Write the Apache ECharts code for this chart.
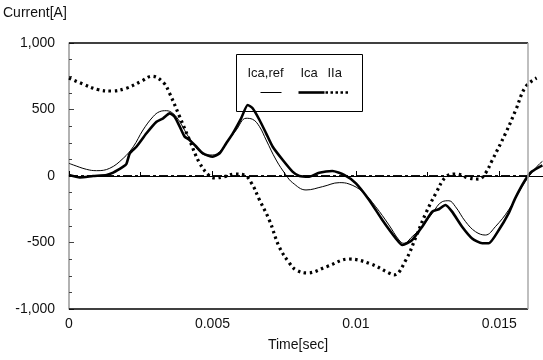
<!DOCTYPE html>
<html>
<head>
<meta charset="utf-8">
<title>Current</title>
<script src="https://cdn.jsdelivr.net/npm/echarts@6/dist/echarts.min.js"></script>
<style>
  html, body { margin: 0; padding: 0; background: #fff; }
  #chart { width: 543px; height: 360px; }
</style>
</head>
<body>
<div id="chart"></div>
<script>
// values
const refTime = [0, 0.00015, 0.00061, 0.00096, 0.00142, 0.00189, 0.00224, 0.00258, 0.00293, 0.00316, 0.00339, 0.00362, 0.00386,
  0.00409, 0.00432, 0.00455, 0.00478, 0.00501, 0.00525, 0.00548, 0.00583, 0.00617, 0.0064, 0.00664, 0.00687, 0.00722,
  0.00756, 0.00779, 0.00826, 0.00884, 0.00942, 0.00976, 0.01023, 0.01069, 0.01115, 0.0115, 0.01167, 0.01196, 0.01231,
  0.01266, 0.01301, 0.01324, 0.01347, 0.01382, 0.01417, 0.01451, 0.01486, 0.01532, 0.01579, 0.01602, 0.01636, 0.0165]
const refCurrent = [95, 83, 50, 40, 58, 133, 220, 346, 446, 484, 491, 471, 408,
  321, 246, 183, 158, 158, 183, 246, 346, 434, 426, 371, 271, 120,
  8, -50, -105, -80, -50, -60, -118, -231, -368, -481, -506, -456, -381,
  -281, -193, -186, -231, -343, -419, -444, -381, -256, -80, -5, 83, 110]

const icaTime = [0, 0.00038, 0.00084, 0.00131, 0.00154, 0.00189, 0.002, 0.00212, 0.00235, 0.0027, 0.00305, 0.00328, 0.00351,
  0.00368, 0.00386, 0.00403, 0.0042, 0.00444, 0.00467, 0.00501, 0.00525, 0.00548, 0.00571, 0.006, 0.00623, 0.0064,
  0.00664, 0.00687, 0.0071, 0.00745, 0.00779, 0.00803, 0.00837, 0.00872, 0.00918, 0.00959, 0.01, 0.01046, 0.01092,
  0.01139, 0.01162, 0.01196, 0.01231, 0.01266, 0.01289, 0.01312, 0.01335, 0.0137, 0.01405, 0.0144, 0.01463, 0.01498,
  0.01532, 0.01555, 0.0159, 0.01613, 0.0165]
const icaCurrent = [8, -10, 0, 8, 25, 70, 90, 170, 220, 321, 408, 434, 471,
  446, 371, 296, 271, 220, 170, 145, 170, 246, 321, 434, 534, 509,
  421, 321, 220, 120, 33, 0, -5, 25, 38, 8, -55, -180, -331,
  -469, -519, -481, -381, -268, -250, -218, -268, -381, -469, -506, -506, -406,
  -281, -168, -30, 33, 80]

const iiaTime = [0, 0.0005, 0.001, 0.0015, 0.002, 0.0025, 0.0029, 0.0033, 0.0035, 0.00386, 0.0042, 0.00455, 0.0049,
  0.0051, 0.0054, 0.0058, 0.0061, 0.00636, 0.00664, 0.00698, 0.00733, 0.00768, 0.00792, 0.0083, 0.009, 0.00976,
  0.0105, 0.01115, 0.01133, 0.01174, 0.01209, 0.01244, 0.01279, 0.01313, 0.01348, 0.01393, 0.01428, 0.01452, 0.01473,
  0.01522, 0.01557, 0.01591, 0.0163]
const iiaCurrent = [737, 690, 650, 639, 660, 710, 750, 700, 624, 444, 271, 98, 0,
  -15, -5, 15, 8, -53, -180, -331, -534, -654, -707, -729, -680, -624,
  -660, -729, -744, -632, -459, -278, -128, -8, 15, -15, -23, 23, 110,
  323, 496, 669, 737]

const baseTime = [0, 0.016]
const baseCurrent = [0, 0]

const xTicks = { 0: '0', 0.005: '0.005', 0.01: '0.01', 0.015: '0.015' }
const yTicks = { 1000: '1,000', 500: '500', 0: '0', '-500': '-500', '-1000': '-1,000' }

const xEnd = 0.016      // right frame of the plot
const xShown = 0.01652  // curves run a bit past the frame

const pairs = (xs, ys) => xs.map((x, i) => [x, ys[i]])

const chart = echarts.init(document.getElementById('chart'))
const font = 'Liberation Sans, Arial, sans-serif'

chart.setOption({
  animation: false,
  textStyle: { fontFamily: font },
  grid: { left: 69, right: 0, top: 43, bottom: 51 },
  xAxis: {
    type: 'value',
    min: 0,
    max: xShown,
    interval: 0.005,
    axisLine: { show: false },
    axisTick: { inside: true, length: 5, lineStyle: { color: '#000' } },
    minorTick: { show: true, splitNumber: 2, length: 4, lineStyle: { color: '#000' } },
    splitLine: { show: false },
    axisLabel: {
      color: '#111', fontSize: 14, margin: 8, showMaxLabel: false,
      formatter: v => xTicks[v] !== undefined ? xTicks[v] : ''
    }
  },
  yAxis: {
    type: 'value',
    min: -1000,
    max: 1000,
    interval: 500,
    axisLine: { show: true, lineStyle: { color: '#999', width: 1.5 } },
    axisTick: { inside: true, length: 5, lineStyle: { color: '#444' } },
    minorTick: { show: true, splitNumber: 4, length: 3, lineStyle: { color: '#444' } },
    splitLine: { show: false },
    axisLabel: {
      color: '#111', fontSize: 14, margin: 14,
      formatter: v => yTicks[v] !== undefined ? yTicks[v] : ''
    }
  },
  series: [{
    name: 'base',
    type: 'line',
    data: pairs(baseTime, baseCurrent),
    showSymbol: false,
    lineStyle: { color: '#111', width: 2, type: [9, 3, 3, 3] },
    markLine: {
      silent: true, symbol: 'none', label: { show: false },
      lineStyle: { color: '#000', width: 1, type: 'solid' },
      data: [
        [{ coord: [0, 0] }, { coord: [xShown, 0] }],
        [{ coord: [0, 1000], lineStyle: { color: '#000', width: 1.5 } }, { coord: [xEnd, 1000] }],
        [{ coord: [0, -1000], lineStyle: { color: '#000', width: 1.5 } }, { coord: [xEnd, -1000] }],
        [{ coord: [xEnd, 1000], lineStyle: { color: '#aaa', width: 1.5 } }, { coord: [xEnd, -1000] }]
      ]
    }
  }, {
    name: 'Ica,ref',
    type: 'line',
    data: pairs(refTime, refCurrent),
    smooth: 0.4,
    showSymbol: false,
    lineStyle: { color: '#000', width: 1 }
  }, {
    name: 'Ica',
    type: 'line',
    data: pairs(icaTime, icaCurrent),
    smooth: 0.2,
    showSymbol: false,
    lineStyle: { color: '#000', width: 2.6 }
  }, {
    name: 'IIa',
    type: 'line',
    data: pairs(iiaTime, iiaCurrent),
    smooth: 0.4,
    showSymbol: false,
    lineStyle: { color: '#000', width: 3.2, type: [2.5, 3.5], cap: 'butt' }
  }],
  graphic: [
    { type: 'text', left: 3, top: 6, style: { text: 'Current[A]', font: '14px ' + font, fill: '#111' } },
    { type: 'text', x: 298, y: 345, style: { text: 'Time[sec]', font: '14px ' + font, fill: '#111', align: 'center', verticalAlign: 'middle' } },
    {
      type: 'group', left: 236, top: 54, z: 1,
      children: [
        { type: 'rect', shape: { x: 0, y: 0, width: 126, height: 57 }, style: { fill: '#fff', stroke: '#000', lineWidth: 1 } },
        { type: 'text', x: 11, y: 12, style: { text: 'Ica,ref', font: '13px ' + font, fill: '#111' } },
        { type: 'text', x: 64, y: 12, style: { text: 'Ica', font: '13px ' + font, fill: '#111' } },
        { type: 'text', x: 91, y: 12, style: { text: 'IIa', font: '13px ' + font, fill: '#111' } },
        { type: 'line', shape: { x1: 24, y1: 38, x2: 45, y2: 38 }, style: { stroke: '#000', lineWidth: 1 } },
        { type: 'line', shape: { x1: 62, y1: 38, x2: 88, y2: 38 }, style: { stroke: '#000', lineWidth: 2.6 } },
        { type: 'line', shape: { x1: 89, y1: 38, x2: 114, y2: 38 }, style: { stroke: '#000', lineWidth: 2.6, lineDash: [2.5, 2.5] } }
      ]
    }
  ]
})
</script>
</body>
</html>
